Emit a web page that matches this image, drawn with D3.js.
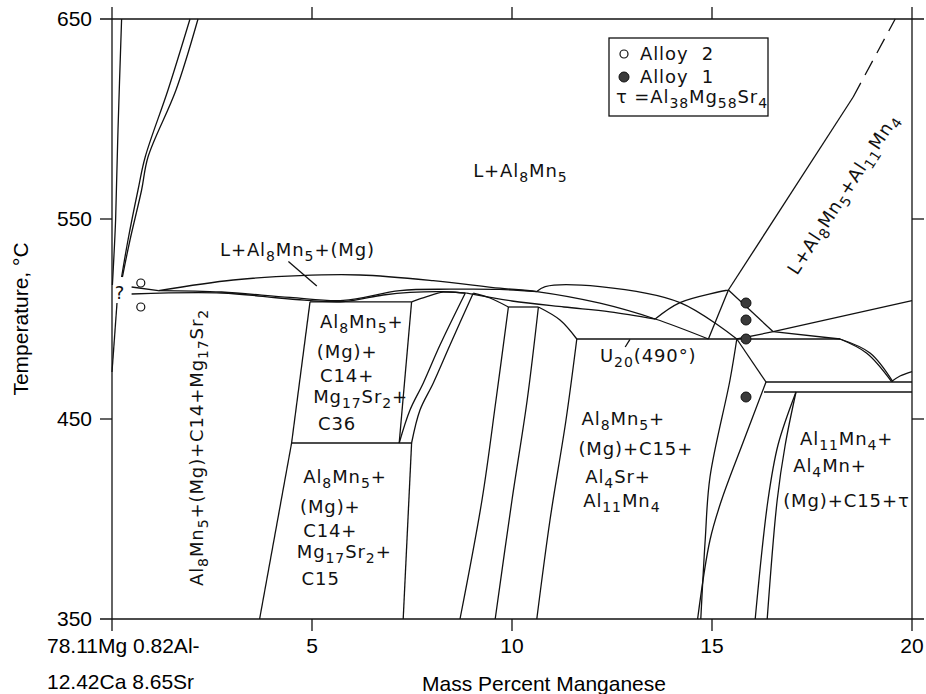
<!DOCTYPE html>
<html>
<head>
<meta charset="utf-8">
<script src="https://cdn.jsdelivr.net/npm/d3@7"></script>
<style>
  body { margin: 0; background: #fff; }
  svg { display: block; }
</style>
</head>
<body>
<svg id="chart" width="926" height="694"></svg>
<script>
// axis ticks
const xTicks = [5, 10, 15, 20];
const yTicks = [350, 450, 550, 650];

// phase boundaries, [mass % Mn, temperature C]
const edgeA = [[0.24, 650], [0.15, 594.5], [0.09, 549.5], [0.03, 524.5], [0.01, 517]];
const edgeB1 = [[1.95, 650], [1.4, 614.5], [0.83, 581], [0.65, 564.5], [0.4, 539.5], [0.24, 521]];
const edgeB2 = [[2.15, 650], [1.6, 614.5], [0.9, 581], [0.74, 564.5], [0.45, 539.5], [0.26, 521]];
const edgeLowLeft = [[0.125, 508], [0, 473.5]];
const edgeShort = [[0.49, 516], [1.16, 514.2]];
const liquidusTop = [[1.16, 514.2], [3.03, 519.5], [4.7, 521.7], [6.2, 522], [8.03, 519.2], [9.7, 515.4],
  [10.62, 513.7], [12.2, 507.9], [13.58, 500], [14.91, 490]];
const solidus1 = [[0.49, 512.5], [2.74, 513], [4.45, 510], [5.78, 508.7], [6.78, 512], [7.45, 513.3], [8.28, 513.7], [8.87, 512.9]];
const solidus2 = [[1.16, 514.2], [2.74, 513.5], [4.45, 510.8], [5.78, 509.3], [7.2, 514.2], [8.45, 514.9], [9.7, 514.8], [10.62, 513.7]];
const boxTop = [[4.95, 508.6], [7.49, 508.6]];
const boxLeft = [[4.95, 508.6], [4.49, 438]];
const boxRight = [[7.49, 508.6], [7.18, 438]];
const boxBottom = [[4.49, 438], [7.49, 438]];
const lowBoxLeft = [[4.49, 438], [3.69, 350]];
const lowBoxRight = [[7.49, 438], [7.28, 350]];
const curveC1 = [[7.18, 438], [7.45, 454.5], [7.78, 467.9], [8.2, 487], [8.83, 512.9]];
const curveC2 = [[7.49, 438], [7.7, 454.5], [8.03, 467.9], [8.45, 487], [9.03, 512.9]];
const boxCap = [[7.49, 508.6], [7.87, 511.2], [8.28, 513.4], [8.83, 512.9]];
const curveD = [[9.03, 512.9], [9.45, 510.5], [9.91, 506]];
const shelf506 = [[9.91, 506], [10.66, 506]];
const curveE = [[10.66, 506], [11.2, 499.5], [11.62, 490]];
const vert1 = [[9.91, 506], [9.6, 459.5], [9.25, 409.5], [8.7, 350]];
const vert2 = [[10.66, 506], [10.38, 459.5], [10, 409.5], [9.58, 350]];
const vert3 = [[11.62, 490], [11.35, 449.5], [10.95, 399.5], [10.62, 350]];
const lineL8 = [[8.87, 512.9], [10, 509], [11.3, 506], [12.45, 503.6], [13.58, 500]];
const lineL9 = [[10.62, 513.7], [10.83, 516.2], [12.2, 516.2], [14.2, 508.2], [15.62, 490]];
const lineL11 = [[13.58, 500], [14.2, 508.2], [15.41, 514.5]];
const lineL12 = [[15.41, 514.5], [18.53, 611]];
const lineL12dash = [[18.53, 611], [19.58, 650]];
const lineL13 = [[15.41, 514.5], [14.91, 490]];
const lineL14 = [[15.41, 514.5], [16.53, 493.65]];
const lineL15a = [[15.62, 490], [16.53, 493.65]];
const lineL15b = [[16.53, 493.65], [20, 509.2]];
const lineL16 = [[16.53, 493.65], [18.2, 490]];
const iso490 = [[11.62, 490], [18.2, 490]];
const curve18a = [[18.2, 490], [18.87, 482.9], [19.49, 468.7]];
const curve18b = [[18.2, 490], [18.95, 483], [19.52, 468.7]];
const curve19 = [[19.49, 468.7], [19.7, 471.5], [20, 473.7]];
const iso468 = [[16.35, 468.5], [20, 468.5]];
const iso463 = [[16.3, 463.5], [20, 463.5]];
const lineL22 = [[15.62, 490], [16.35, 468.5]];
const curveL24 = [[16.35, 468.5], [15.79, 439], [15.24, 409.5], [14.95, 389.5], [14.64, 350]];
const lineL25 = [[15.62, 490], [15.45, 469.5], [14.95, 421], [14.83, 389.5], [14.72, 350]];
const curveL26 = [[17.1, 463.5], [16.65, 437], [16.4, 409.5], [16.08, 350]];
const curveL27 = [[17.1, 463.5], [16.83, 437], [16.63, 409.5], [16.38, 350]];
const leaderMg = [[4.41, 528.7], [5.12, 516.5]];
const leaderU20 = [[12.95, 489.8], [12.83, 486]];

const solidEdges = [edgeA, edgeB1, edgeB2, edgeLowLeft, edgeShort, liquidusTop, solidus1, solidus2,
  boxTop, boxLeft, boxRight, boxBottom, lowBoxLeft, lowBoxRight, curveC1, curveC2, boxCap, curveD,
  shelf506, curveE, vert1, vert2, vert3, lineL8, lineL9, lineL11, lineL12, lineL13, lineL14,
  lineL15a, lineL15b, lineL16, iso490, curve18a, curve18b, curve19, iso468, iso463, lineL22,
  curveL24, lineL25, curveL26, curveL27, leaderMg, leaderU20];
const dashedEdges = [lineL12dash];

// experimental alloys
const alloy2Mn = [0.72, 0.72];
const alloy2T = [518, 506];
const alloy1Mn = [15.85, 15.85, 15.85, 15.85];
const alloy1T = [508, 499.5, 490, 461];

// phase field labels ({} = subscript)
const fieldText = ['L+Al{8}Mn{5}', 'L+Al{8}Mn{5}+(Mg)',
  'Al{8}Mn{5}+', '(Mg)+', 'C14+', 'Mg{17}Sr{2}+', 'C36',
  'Al{8}Mn{5}+', '(Mg)+', 'C14+', 'Mg{17}Sr{2}+', 'C15',
  'Al{8}Mn{5}+', '(Mg)+C15+', 'Al{4}Sr+', 'Al{11}Mn{4}',
  'Al{11}Mn{4}+', 'Al{4}Mn+', '(Mg)+C15+τ', 'U{20}(490°)'];
const fieldMn = [9.03, 2.7, 5.2, 5.12, 5.2, 5.03, 5.15, 4.78, 4.7, 4.78, 4.62, 4.74,
  11.74, 11.66, 11.83, 11.78, 17.2, 17.03, 16.78, 12.2];
const fieldT = [571, 531.5, 495.5, 480.5, 468.5, 458, 444.5, 417.9, 402.9, 391.2, 380.4, 367,
  447, 432, 418.2, 406.2, 437, 423.7, 406.2, 478.7];

const xLabelLines = ['78.11Mg 0.82Al-', '12.42Ca 8.65Sr'];

const svg = d3.select('#chart');
const x = d3.scaleLinear().domain([0, 20]).range([112, 912]);
const y = d3.scaleLinear().domain([350, 650]).range([619, 19]);
const ink = '#111';
const labelFont = '"DejaVu Sans", sans-serif';
const axisFont = '"Liberation Sans", Arial, sans-serif';

function richText(sel, str, subSize) {
  let down = false;
  str.split(/(\{[^}]*\})/).filter(s => s.length).forEach(p => {
    if (p[0] === '{') {
      sel.append('tspan').attr('dy', 5).attr('font-size', subSize).text(p.slice(1, -1));
      down = true;
    } else {
      sel.append('tspan').attr('dy', down ? -5 : 0).text(p);
      down = false;
    }
  });
}

// frame, lines run a little past the corners
const ext = 12;
const frame = svg.append('g').attr('stroke', ink).attr('stroke-width', 1.3);
frame.append('line').attr('x1', x(0) - ext).attr('x2', x(20) + ext).attr('y1', y(650)).attr('y2', y(650));
frame.append('line').attr('x1', x(0) - ext).attr('x2', x(20) + ext).attr('y1', y(350)).attr('y2', y(350));
frame.append('line').attr('x1', x(0)).attr('x2', x(0)).attr('y1', y(650) - ext).attr('y2', y(350) + ext);
frame.append('line').attr('x1', x(20)).attr('x2', x(20)).attr('y1', y(650) - ext).attr('y2', y(350) + ext);
xTicks.slice(0, 3).forEach(v => {
  frame.append('line').attr('x1', x(v)).attr('x2', x(v)).attr('y1', y(650) - ext).attr('y2', y(650));
  frame.append('line').attr('x1', x(v)).attr('x2', x(v)).attr('y1', y(350)).attr('y2', y(350) + ext);
});
yTicks.slice(1, 3).forEach(v => {
  frame.append('line').attr('x1', x(0) - ext).attr('x2', x(0)).attr('y1', y(v)).attr('y2', y(v));
  frame.append('line').attr('x1', x(20)).attr('x2', x(20) + ext).attr('y1', y(v)).attr('y2', y(v));
});

// tick labels
svg.append('g').selectAll('text').data(yTicks).join('text')
  .attr('x', x(0) - 20).attr('y', d => y(d) + 7)
  .attr('text-anchor', 'end').attr('font-family', axisFont).attr('font-size', 21)
  .text(d => d);
svg.append('g').selectAll('text').data(xTicks).join('text')
  .attr('x', d => x(d)).attr('y', y(350) + 34)
  .attr('text-anchor', 'middle').attr('font-family', axisFont).attr('font-size', 21)
  .text(d => d);
svg.append('g').selectAll('text').data(xLabelLines).join('text')
  .attr('x', 47).attr('y', (d, i) => y(350) + 34 + i * 36)
  .attr('font-family', axisFont).attr('font-size', 21)
  .text(d => d);
svg.append('text')
  .attr('x', (x(0) + x(20)) / 2 + 32).attr('y', y(350) + 72)
  .attr('text-anchor', 'middle').attr('font-family', axisFont).attr('font-size', 21)
  .text('Mass Percent Manganese');
svg.append('text')
  .attr('transform', `translate(28,${(y(350) + y(650)) / 2}) rotate(-90)`)
  .attr('text-anchor', 'middle').attr('font-family', axisFont).attr('font-size', 21)
  .text('Temperature, °C');

// boundaries
const line = d3.line().x(d => x(d[0])).y(d => y(d[1])).curve(d3.curveCatmullRom.alpha(0.5));
const plot = svg.append('g').attr('fill', 'none').attr('stroke', ink).attr('stroke-width', 1.3)
  .attr('stroke-linejoin', 'round');
plot.selectAll('path.solid').data(solidEdges).join('path').attr('class', 'solid').attr('d', line);
plot.selectAll('path.dash').data(dashedEdges).join('path').attr('class', 'dash')
  .attr('stroke-dasharray', '16,9').attr('d', line);

// alloy points
svg.append('g').selectAll('circle').data(alloy2Mn).join('circle')
  .attr('cx', d => x(d)).attr('cy', (d, i) => y(alloy2T[i])).attr('r', 4)
  .attr('fill', '#fff').attr('stroke', ink).attr('stroke-width', 1.2);
svg.append('g').selectAll('circle').data(alloy1Mn).join('circle')
  .attr('cx', d => x(d)).attr('cy', (d, i) => y(alloy1T[i])).attr('r', 5)
  .attr('fill', '#3a3a3a').attr('stroke', ink).attr('stroke-width', 1);

// field labels
const labels = svg.append('g').attr('font-family', labelFont).attr('font-size', 18)
  .attr('letter-spacing', 0.9).attr('fill', ink);
fieldText.forEach((t, i) => {
  const el = labels.append('text').attr('x', x(fieldMn[i])).attr('y', y(fieldT[i]));
  richText(el, t, 14);
});
labels.append('text').attr('x', x(0.2)).attr('y', y(510)).attr('text-anchor', 'middle').text('?');
const leftRot = labels.append('text')
  .attr('transform', `translate(${x(2.275)},${y(366.5)}) rotate(-90)`);
richText(leftRot, 'Al{8}Mn{5}+(Mg)+C14+Mg{17}Sr{2}', 14);
const rightRot = labels.append('text')
  .attr('transform', `translate(${x(17.125)},${y(521.5)}) rotate(-57)`);
richText(rightRot, 'L+Al{8}Mn{5}+Al{11}Mn{4}', 14);

// legend
const lg = svg.append('g').attr('font-family', labelFont).attr('font-size', 18)
  .attr('letter-spacing', 0.9).attr('fill', ink);
lg.append('rect').attr('x', 609).attr('y', 38).attr('width', 159).attr('height', 78)
  .attr('fill', '#fff').attr('stroke', ink).attr('stroke-width', 1.3);
lg.append('circle').attr('cx', 624).attr('cy', 54).attr('r', 4)
  .attr('fill', '#fff').attr('stroke', ink).attr('stroke-width', 1.2);
lg.append('text').attr('x', 640).attr('y', 60).style('white-space', 'pre').text('Alloy  2');
lg.append('circle').attr('cx', 624).attr('cy', 77).attr('r', 5)
  .attr('fill', '#3a3a3a').attr('stroke', ink);
lg.append('text').attr('x', 640).attr('y', 83).style('white-space', 'pre').text('Alloy  1');
const tau = lg.append('text').attr('x', 616).attr('y', 103);
richText(tau, 'τ =Al{38}Mg{58}Sr{4}', 14);
</script>
</body>
</html>
